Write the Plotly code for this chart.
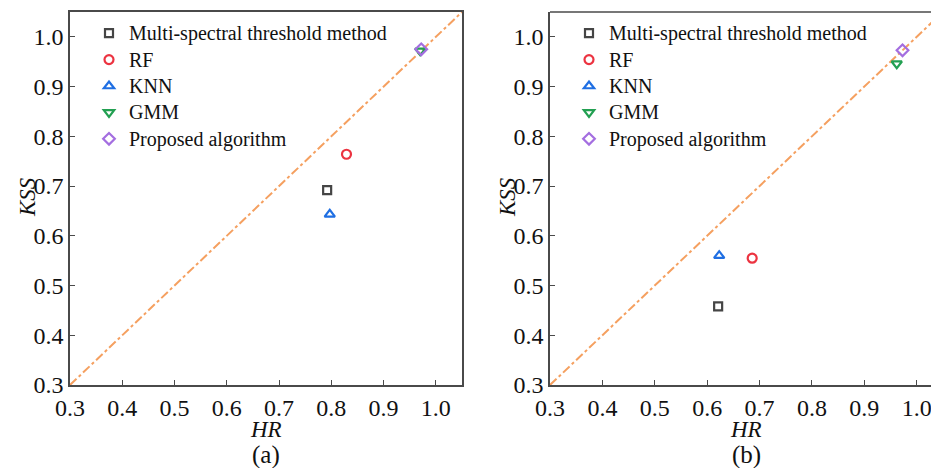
import plotly.graph_objects as go

methods = ["Multi-spectral threshold method", "RF", "KNN", "GMM", "Proposed algorithm"]
symbols = ["square-open", "circle-open", "triangle-up-open", "triangle-down-open", "diamond-open"]
colors = ["#454545", "#ec3340", "#1f6fe3", "#23a052", "#a46ee0"]

# panel (a)
hr_a = [0.792, 0.829, 0.797, 0.970, 0.972]
kss_a = [0.692, 0.764, 0.643, 0.972, 0.975]
# panel (b)
hr_b = [0.621, 0.686, 0.623, 0.962, 0.973]
kss_b = [0.458, 0.555, 0.560, 0.946, 0.973]

diag = [0.3, 1.05]
ticks = [0.3, 0.4, 0.5, 0.6, 0.7, 0.8, 0.9, 1.0]
tick_text = ["0.3", "0.4", "0.5", "0.6", "0.7", "0.8", "0.9", "1.0"]

FONT = "Liberation Serif"
W, H = 931, 468

fig = go.Figure()

for xa, ya, hr, kss, leg in [("x", "y", hr_a, kss_a, "legend"), ("x2", "y2", hr_b, kss_b, "legend2")]:
    fig.add_trace(go.Scatter(x=diag, y=diag, mode="lines", xaxis=xa, yaxis=ya,
                             line=dict(color="#f5a060", width=2, dash="dashdot"),
                             showlegend=False, hoverinfo="skip"))
    for i, m in enumerate(methods):
        fig.add_trace(go.Scatter(x=[hr[i]], y=[kss[i]], mode="markers",
                                 name='<span style="font-size:20px">' + m + "</span>",
                                 xaxis=xa, yaxis=ya, legend=leg,
                                 marker=dict(symbol=symbols[i], size=9 if i != 0 else 8,
                                             color=colors[i],
                                             line=dict(color=colors[i], width=2.2))))

def px_x(p):
    return p / W

def px_y(p):
    return 1 - p / H

axis_common = dict(showline=True, linecolor="#4a4a4a", linewidth=1.5, ticks="inside",
                   ticklen=5, tickwidth=1.3, tickcolor="#4a4a4a", showgrid=False,
                   zeroline=False, tickvals=ticks, ticktext=tick_text, automargin=False,
                   ticklabeloverflow="allow",
                   tickfont=dict(family=FONT, size=24, color="#111"))

leg_common = dict(xanchor="left", yanchor="top", bgcolor="rgba(0,0,0,0)",
                  font=dict(family=FONT, size=18, color="#111"), itemwidth=30, tracegroupgap=0)

fig.update_layout(
    width=W, height=H, margin=dict(l=0, r=0, t=0, b=0, autoexpand=False),
    paper_bgcolor="white", plot_bgcolor="white",
    xaxis=dict(domain=[px_x(70), px_x(462)], range=[0.3, 1.05], mirror=True, anchor="y", **axis_common),
    yaxis=dict(domain=[px_y(385), px_y(12)], range=[0.3, 1.05], mirror=True, anchor="x", **axis_common),
    xaxis2=dict(domain=[px_x(550), 1.0], range=[0.3, 0.3 + 381 / 523.8], mirror=False, anchor="y2", **axis_common),
    yaxis2=dict(domain=[px_y(385), px_y(12)], range=[0.3, 1.05], mirror=False, anchor="x2", **axis_common),
    legend=dict(x=px_x(89), y=px_y(15), **leg_common),
    legend2=dict(x=px_x(569), y=px_y(15), **leg_common),
    showlegend=True,
)

# top border line for right panel (no right border visible in reference)
fig.add_shape(type="line", xref="paper", yref="paper", x0=px_x(550), x1=1.0, y0=px_y(12), y1=px_y(12),
              line=dict(color="#4a4a4a", width=1.5))

ann_font = dict(family=FONT, size=23, color="#111")
for cx in [266, 746]:
    fig.add_annotation(x=px_x(cx), y=px_y(429), xref="paper", yref="paper", text="<i>HR</i>",
                       showarrow=False, font=ann_font, xanchor="center", yanchor="middle")
for cx, lab in [(266, "(a)"), (746, "(b)")]:
    fig.add_annotation(x=px_x(cx), y=px_y(455), xref="paper", yref="paper", text=lab,
                       showarrow=False, font=dict(family=FONT, size=25, color="#111"),
                       xanchor="center", yanchor="middle")
for cx in [27, 507]:
    fig.add_annotation(x=px_x(cx), y=px_y(197), xref="paper", yref="paper", text="<i>KSS</i>",
                       showarrow=False, font=ann_font, textangle=-90, xanchor="center", yanchor="middle")

fig.write_html("out.html")
